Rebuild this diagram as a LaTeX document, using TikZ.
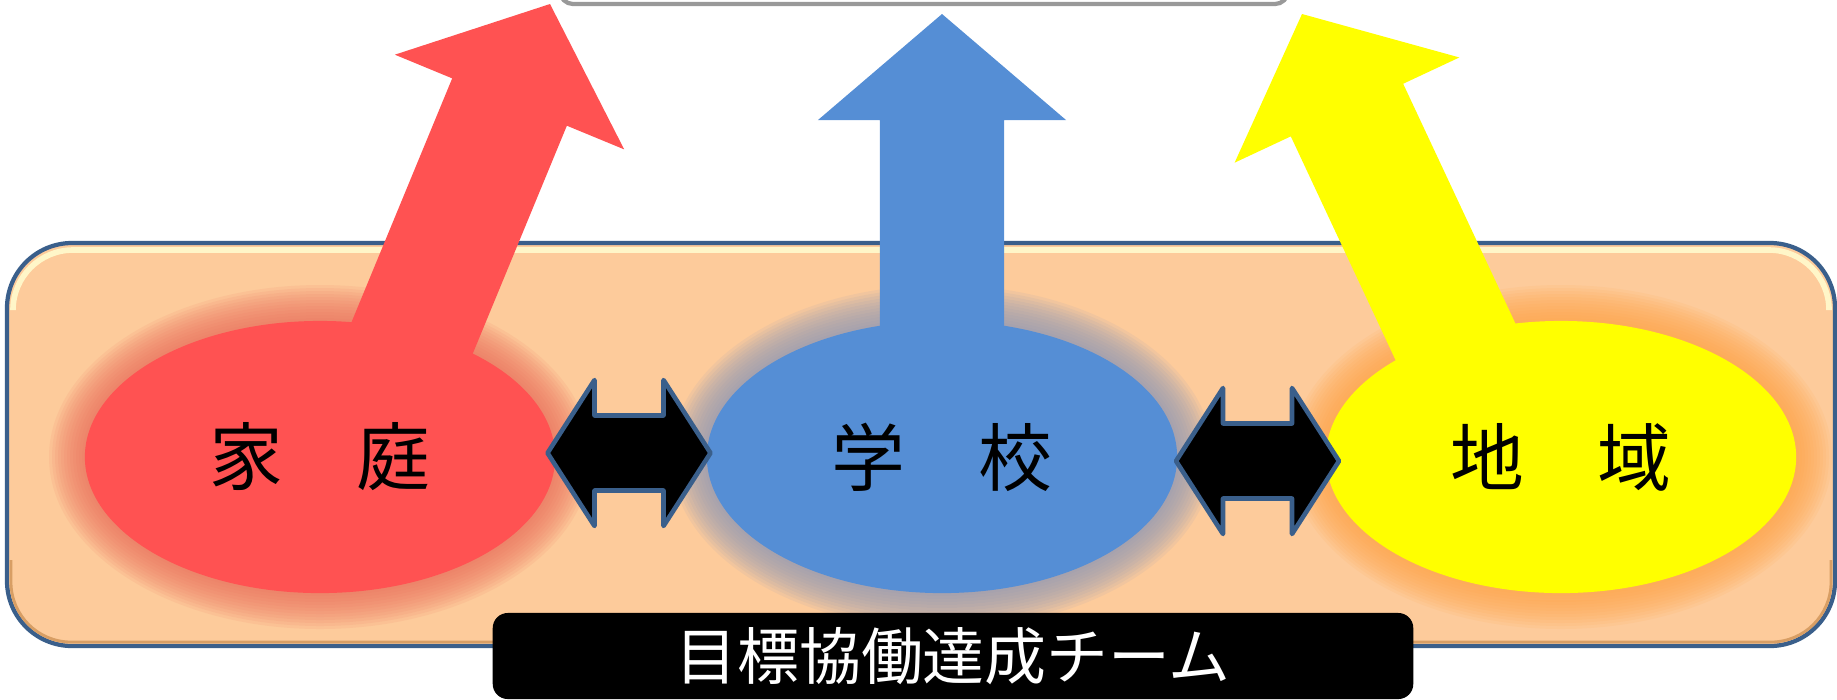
\documentclass[tikz,border=0pt]{standalone}
\usepackage{fontspec}
\newfontfamily\jpfont{Noto Sans CJK JP}
\usetikzlibrary{shapes.geometric, calc}

\definecolor{homered}{RGB}{255,82,82}
\definecolor{schoolblue}{RGB}{85,142,213}
\definecolor{areayellow}{RGB}{255,255,0}
\definecolor{homeglow}{RGB}{236,112,92}
\definecolor{schoolglow}{RGB}{140,152,185}
\definecolor{areaglow}{RGB}{255,165,70}
\definecolor{teamorange}{RGB}{253,203,155}
\definecolor{teamedge}{RGB}{58,95,139}
\definecolor{teamlight}{RGB}{255,246,200}
\definecolor{goalgray}{RGB}{153,153,153}

\begin{document}
\begin{tikzpicture}[x=0.01cm,y=-0.01cm]
\useasboundingbox (0,0) rectangle (1837,699);
\clip (0,0) rectangle (1837,699);
% goal box (cut off at the top)
\draw[goalgray,line width=1.2pt,fill=white,rounded corners=0.13cm] (560,-40) rectangle (1288,4);
% team box
\draw[teamedge,line width=1.2pt,fill=teamorange,rounded corners=0.65cm] (7,243) rectangle (1835,646);
\draw[teamlight,line width=1.6pt,rounded corners=0.6cm] (13,310) -- (13,250) -- (1829,250) -- (1829,310);
\draw[brown!60!teamorange,line width=0.8pt,rounded corners=0.6cm] (11,560) -- (11,642) -- (1831,642) -- (1831,560);
% glow
\foreach \x/\col in {320/homeglow,942/schoolglow,1561/areaglow}{
  \foreach \d in {3,6,...,36}{
    \fill[\col,opacity=0.1] (\x,457) ellipse [x radius=235+\d, y radius=136+\d];
  };
};
\node[ellipse,fill=homered,minimum width=4.7cm,minimum height=2.72cm,inner sep=0pt,font={\jpfont\fontsize{21}{21}\selectfont}] (home) at (320,457) {家　庭};
\node[ellipse,fill=schoolblue,minimum width=4.7cm,minimum height=2.72cm,inner sep=0pt,font={\jpfont\fontsize{21}{21}\selectfont}] (school) at (942,457) {学　校};
\node[ellipse,fill=areayellow,minimum width=4.7cm,minimum height=2.72cm,inner sep=0pt,font={\jpfont\fontsize{21}{21}\selectfont}] (area) at (1561,457) {地　域};
% big arrows
\coordinate (homeFoot) at ($(home)+(83,-97)$);
\coordinate (homeTip) at (550,4);
\coordinate (schoolFoot) at ($(school)+(0,-97)$);
\coordinate (schoolTip) at (942,14);
\coordinate (areaFoot) at ($(area)+(-97,-97)$);
\coordinate (areaTip) at (1302,14);
\foreach \from/\tip/\col in {homeFoot/homeTip/homered,schoolFoot/schoolTip/schoolblue,areaFoot/areaTip/areayellow}{
  \coordinate (\from-h) at ($(\tip)!1.06cm!(\from)$);
  \fill[\col] ($(\from)!0.62cm!90:(\tip)$) -- ($(\from-h)!0.62cm!90:(\tip)$) -- ($(\from-h)!1.24cm!90:(\tip)$) -- (\tip)
    -- ($(\from-h)!1.24cm!-90:(\tip)$) -- ($(\from-h)!0.62cm!-90:(\tip)$) -- ($(\from)!0.62cm!-90:(\tip)$) -- cycle;
};
% double arrows
\foreach \a/\b/\dx/\dy in {home/school/-2/-4,school/area/6/4}{
  \coordinate (\a-\b) at ($(\a.east)!0.5!(\b.west)+(\dx,\dy)$);
  \draw[teamedge,line width=1.3pt,fill=black,line join=round] ($(\a-\b)+(-81.5,0)$) -- ++(47,-73) -- ++(0,35.5) -- ++(69,0)
    -- ++(0,-35.5) -- ++(47,73) -- ++(-47,73) -- ++(0,-35.5) -- ++(-69,0) -- ++(0,35.5) -- cycle;
};
\node[fill=black,rounded corners=0.15cm,minimum width=9.2cm,minimum height=0.86cm,inner sep=0pt,text=white,font={\jpfont\fontsize{17.6}{17.6}\selectfont}] (team) at (953,656) {目標協働達成チーム};
\end{tikzpicture}
\end{document}
